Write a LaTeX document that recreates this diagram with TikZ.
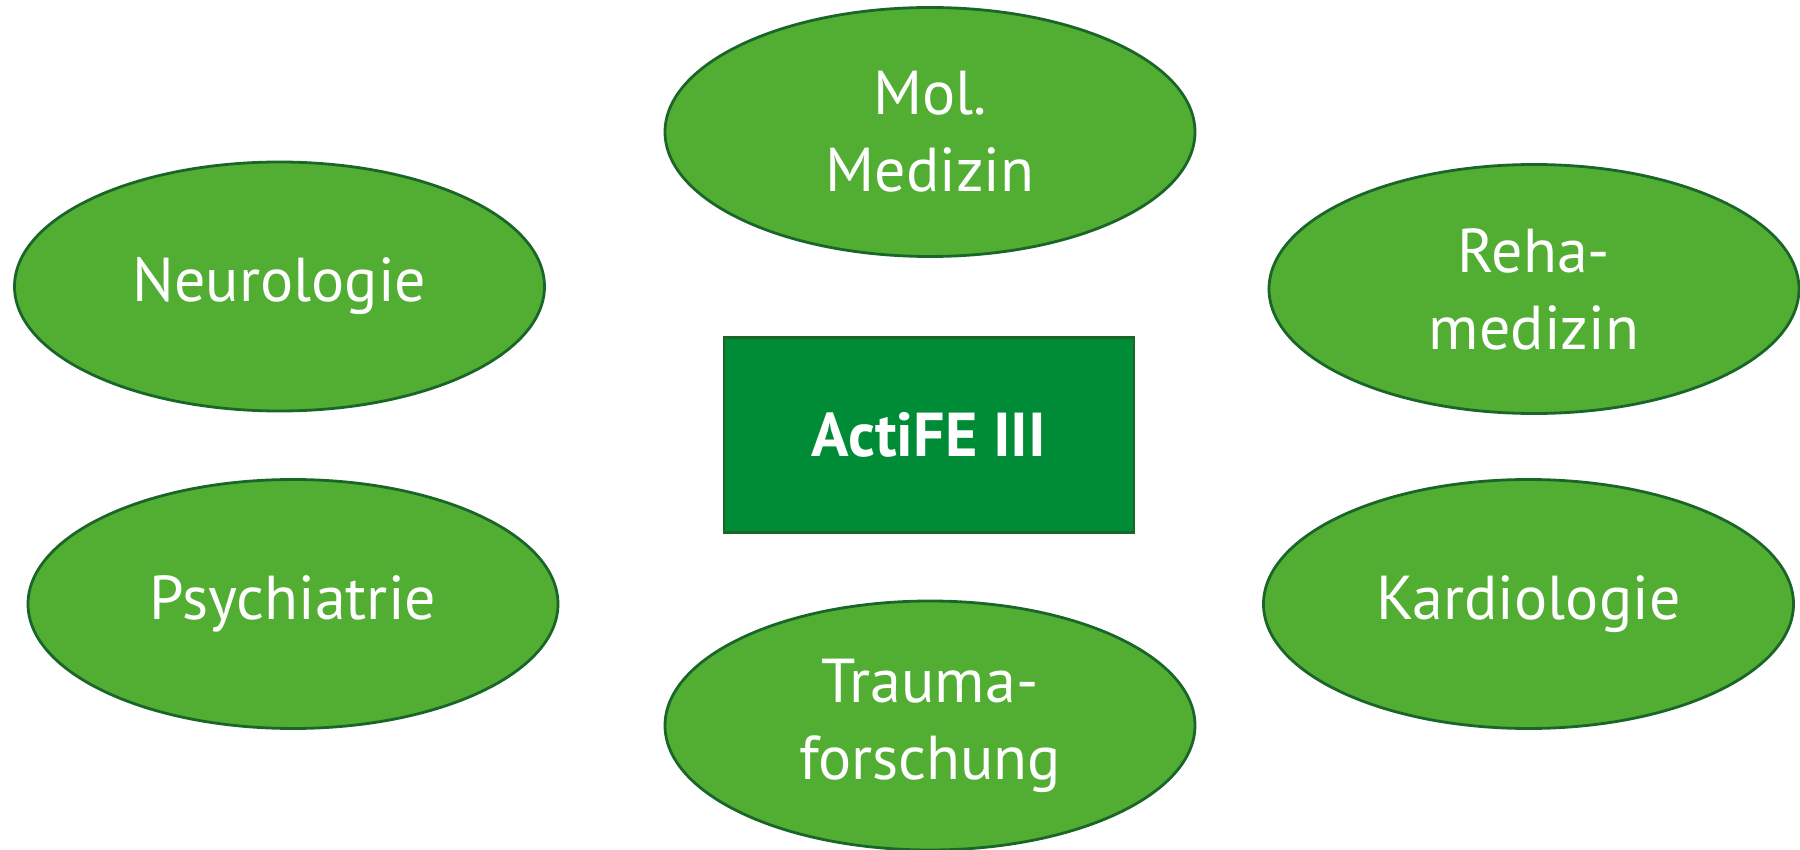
\documentclass[tikz,border=0pt]{standalone}
\usepackage{fontspec}
\setmainfont{PT Sans}
\usetikzlibrary{shapes.geometric}
\definecolor{ellfill}{HTML}{52AE32}
\definecolor{ellline}{HTML}{1A6628}
\definecolor{boxfill}{HTML}{008C36}
\definecolor{boxline}{HTML}{1A6628}
\tikzset{
  area/.style={ellipse, fill=ellfill, draw=ellline, line width=2.8pt,
    minimum width=530pt, minimum height=249pt, inner sep=0pt,
    text=white, align=center, font=\fontsize{62}{77}\selectfont},
  core/.style={rectangle, fill=boxfill, draw=boxline, line width=2.8pt,
    minimum width=410pt, minimum height=195pt, inner sep=0pt,
    text=white, align=center, font=\fontsize{62}{77}\selectfont\bfseries}
}
\begin{document}
\begin{tikzpicture}[x=1pt,y=1pt]
\useasboundingbox (0,0) rectangle (1800,-850);
\node[area] (mol) at (930,-132) {Mol.\\Medizin};
\node[area] (neuro) at (279.5,-286.5) {Neurologie};
\node[area] (reha) at (1534,-289) {Reha-\\medizin};
\node[area] (psych) at (293,-604) {Psychiatrie};
\node[area] (kardio) at (1528.5,-604) {Kardiologie};
\node[area] (trauma) at (930,-725.5) {Trauma-\\forschung};
\node[core] (actife) at (929,-435) {ActiFE III};
\end{tikzpicture}
\end{document}
